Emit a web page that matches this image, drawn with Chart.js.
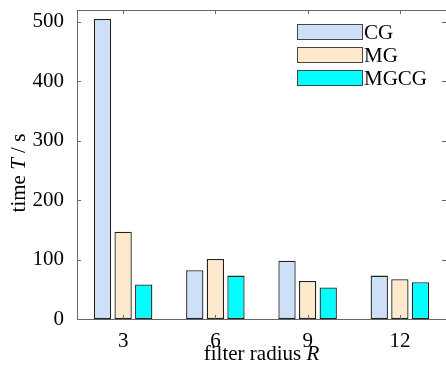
<!DOCTYPE html>
<html>
<head>
<meta charset="utf-8">
<script src="https://cdn.jsdelivr.net/npm/chart.js@4.4.0/dist/chart.umd.min.js"></script>
<style>
  html, body { margin: 0; padding: 0; background: #fff; }
  #wrap { width: 446px; height: 367px; }
</style>
</head>
<body>
<div id="wrap"><canvas id="c"></canvas></div>
<script>
// data
const radii = ['3', '6', '9', '12'];
const cgTimes = [505, 82, 98, 73];
const mgTimes = [147, 101, 64, 67];
const mgcgTimes = [58, 73, 53, 62];
const yTicks = [0, 100, 200, 300, 400, 500];

const serif = '"Liberation Serif", "DejaVu Serif", serif';
const frameColor = '#666';

// frame round the plot, inward ticks, legend and axis titles
const framePlugin = {
    id: 'frame',
    afterDraw(chart) {
        const ctx = chart.ctx;
        const a = chart.chartArea;
        const xs = chart.scales.x;
        const ys = chart.scales.y;
        ctx.save();
        ctx.strokeStyle = frameColor;
        ctx.lineWidth = 1;
        ctx.strokeRect(a.left + 0.5, a.top + 0.5, a.right - a.left, a.bottom - a.top);
        ctx.beginPath();
        // y ticks left and right
        yTicks.forEach(v => {
            const y = Math.round(ys.getPixelForValue(v)) + 0.5;
            ctx.moveTo(a.left, y); ctx.lineTo(a.left + 4, y);
            ctx.moveTo(a.right, y); ctx.lineTo(a.right - 4, y);
        });
        // x ticks top and bottom
        radii.forEach((r, i) => {
            const x = Math.round(xs.getPixelForValue(i)) + 0.5;
            ctx.moveTo(x, a.bottom); ctx.lineTo(x, a.bottom - 4);
            ctx.moveTo(x, a.top); ctx.lineTo(x, a.top + 4);
        });
        ctx.stroke();

        // legend
        const ds = chart.data.datasets;
        ctx.textBaseline = 'middle';
        ctx.textAlign = 'left';
        ctx.font = '21px ' + serif;
        ds.forEach((d, i) => {
            const bx = 297, by = 24 + i * 23, bw = 65, bh = 15;
            ctx.fillStyle = d.backgroundColor;
            ctx.fillRect(bx, by, bw, bh);
            ctx.strokeStyle = '#444';
            ctx.strokeRect(bx + 0.5, by + 0.5, bw, bh);
            ctx.fillStyle = '#000';
            ctx.fillText(d.label, bx + bw + 2, by + bh / 2 + 2);
        });

        // x title: filter radius R
        const xt1 = 'filter radius ';
        ctx.font = '21px ' + serif;
        const w1 = ctx.measureText(xt1).width;
        ctx.font = 'italic 21px ' + serif;
        const w2 = ctx.measureText('R').width;
        let x0 = (a.left + a.right) / 2 - (w1 + w2) / 2;
        ctx.textBaseline = 'alphabetic';
        ctx.fillStyle = '#000';
        ctx.font = '21px ' + serif;
        ctx.fillText(xt1, x0, 360);
        ctx.font = 'italic 21px ' + serif;
        ctx.fillText('R', x0 + w1, 360);

        // y title: time T / s
        ctx.translate(25, 173);
        ctx.rotate(-Math.PI / 2);
        const parts = [['time ', false], ['T', true], [' / s', false]];
        let total = 0;
        parts.forEach(p => {
            ctx.font = (p[1] ? 'italic ' : '') + '21px ' + serif;
            total += ctx.measureText(p[0]).width;
        });
        let px = -total / 2;
        parts.forEach(p => {
            ctx.font = (p[1] ? 'italic ' : '') + '21px ' + serif;
            ctx.fillText(p[0], px, 0);
            px += ctx.measureText(p[0]).width;
        });
        ctx.restore();
    }
};

const ctx = document.getElementById('c').getContext('2d');
new Chart(ctx, {
    type: 'bar',
    data: {
        labels: radii,
        datasets: [
            { label: 'CG', data: cgTimes, backgroundColor: '#cde0f7', borderColor: '#222', borderWidth: 1.3, borderSkipped: false },
            { label: 'MG', data: mgTimes, backgroundColor: '#fde9cb', borderColor: '#222', borderWidth: 1.3, borderSkipped: false },
            { label: 'MGCG', data: mgcgTimes, backgroundColor: '#00ffff', borderColor: '#222', borderWidth: 1.3, borderSkipped: false }
        ]
    },
    options: {
        responsive: true,
        maintainAspectRatio: false,
        animation: false,
        layout: { padding: { left: 0, right: 0, top: 10, bottom: 0 } },
        categoryPercentage: 0.67,
        barPercentage: 0.84,
        plugins: {
            legend: { display: false },
            tooltip: { enabled: false }
        },
        scales: {
            x: {
                grid: { display: false },
                border: { display: false },
                ticks: { color: '#000', font: { family: serif, size: 21 }, padding: 2 },
                afterFit(s) { s.height = 48; s.paddingLeft = 0; s.paddingRight = 0; }
            },
            y: {
                min: 0,
                max: 520,
                grid: { display: false },
                border: { display: false },
                afterBuildTicks(s) { s.ticks = yTicks.map(v => ({ value: v })); },
                ticks: { color: '#000', font: { family: serif, size: 21 }, padding: 5 },
                afterFit(s) { s.width = 77; s.paddingTop = 0; s.paddingBottom = 0; }
            }
        }
    },
    plugins: [framePlugin]
});
</script>
</body>
</html>
